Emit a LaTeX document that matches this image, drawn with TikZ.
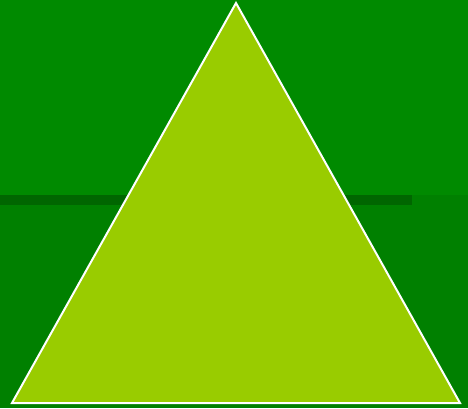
\documentclass[tikz,border=0pt]{standalone}
\definecolor{topgreen}{HTML}{008A00}
\definecolor{botgreen}{HTML}{008000}
\definecolor{bandgreen}{HTML}{006600}
\definecolor{trifill}{HTML}{99CC00}
\begin{document}
\begin{tikzpicture}[x=0.75pt,y=-0.75pt,
  tri/.style={fill=trifill,draw=white,line width=1.5pt,line join=miter}]
\useasboundingbox (0,0) rectangle (468,408);
\fill[topgreen] (0,0) rectangle (468,195);
\fill[botgreen] (0,195) rectangle (468,408);
\fill[bandgreen] (0,195) rectangle (412,205);
\coordinate (apex) at (236,3);
\coordinate (bl) at (12,403);
\coordinate (br) at (460,403);
\draw[tri] (apex) -- (br) -- (bl) -- cycle;
\end{tikzpicture}
\end{document}
